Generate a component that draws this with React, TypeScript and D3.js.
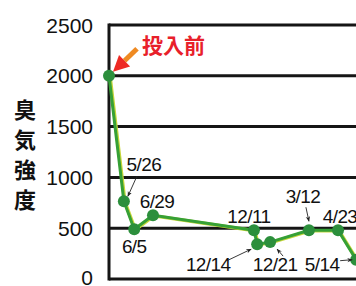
import React from 'react';
import * as d3 from 'd3';

// 投入前からの経過（日数、図から読み取った目安）
const dateLabels = ['投入前', '5/26', '6/5', '6/29', '12/11', '12/14', '12/21', '3/12', '4/23', '5/14'];
const elapsedDays = [0, 23, 39, 68, 224, 229, 249, 309, 354, 382];
const odorValues = [2000, 765, 490, 627, 480, 343, 363, 480, 480, 190];
const yTicks = [0, 500, 1000, 1500, 2000, 2500];
const yTitle = ['臭', '気', '強', '度'];

// label placement relative to each point (px)
const labelStyle = [
  null,
  { dx: 20, dy: -30, arrow: [13, -25, 4, -5] },
  { dx: 0, dy: 24 },
  { dx: 4, dy: -7 },
  { dx: -5, dy: -7 },
  { dx: -49, dy: 27, arrow: [-29, 16, -6, 5] },
  { dx: 5, dy: 29, arrow: [13, 14, 7, 7] },
  { dx: -6, dy: -27, arrow: [-3, -23, 0, -9] },
  { dx: 2, dy: -7 },
  { dx: -34, dy: 11, arrow: [-16, 1, -4, 0] },
];

const W = 356;
const H = 286;

export default function App() {
  const x = d3.scaleLinear().domain([0, 400]).range([109, 109 + 400 * 0.647]);
  const y = d3.scaleLinear().domain([0, 2500]).range([279, 25]);

  const pts = elapsedDays.map((d, i) => ({ d, v: odorValues[i], label: dateLabels[i] }));
  const line = d3.line<any>().x(p => x(p.d)).y(p => y(p.v));

  const x0 = x(0);
  const xEnd = W + 20;
  const p0x = x(pts[0].d);
  const p0y = y(pts[0].v);

  // big arrow to the first point
  const tip = [p0x + 4, p0y - 4];
  const tail = [p0x + 28, p0y - 27];
  const ux = (tip[0] - tail[0]);
  const uy = (tip[1] - tail[1]);
  const len = Math.hypot(ux, uy);
  const dx = ux / len, dy = uy / len;
  const base = [tip[0] - dx * 16, tip[1] - dy * 16];
  const head = [
    [tip[0], tip[1]],
    [base[0] + dy * 8, base[1] - dx * 8],
    [base[0] - dy * 8, base[1] + dx * 8],
  ];

  return (
    <svg width={W} height={H} style={{ position: 'fixed', left: 0, top: 0, background: '#fff' }}
      fontFamily="'Liberation Sans', Arial, sans-serif">
      <defs>
        <marker id="ah" viewBox="0 0 10 10" refX="9" refY="5" markerWidth="6" markerHeight="6" orient="auto">
          <path d="M0,1 L10,5 L0,9 L3,5 Z" fill="#222" />
        </marker>
      </defs>

      {yTicks.map(t => (
        <g key={t}>
          <line x1={x0} x2={xEnd} y1={y(t)} y2={y(t)} stroke="#151515" strokeWidth={3} />
          <text x={93} y={Math.min(y(t), 277)} dy="0.36em" textAnchor="end" fontSize={21} fill="#111">{t}</text>
        </g>
      ))}
      <line x1={x0} x2={x0} y1={y(2500) - 1.5} y2={y(0) + 1.5} stroke="#151515" strokeWidth={3} />

      {yTitle.map((c, i) => (
        <text key={c} x={25} y={110 + i * 30} dy="0.36em" textAnchor="middle" fontSize={22}
          fontWeight="bold" fontFamily="'Noto Sans CJK JP', sans-serif" fill="#111">{c}</text>
      ))}

      <path d={line(pts) || ''} fill="none" stroke="#c6d63a" strokeWidth={3.5} transform="translate(1,0.5)" />
      <path d={line(pts) || ''} fill="none" stroke="#36a036" strokeWidth={3} strokeLinejoin="round" />
      {pts.map((p, i) => (
        <circle key={i} cx={x(p.d)} cy={y(p.v)} r={6} fill="#2c8f3c" />
      ))}

      <line x1={tail[0]} y1={tail[1]} x2={base[0]} y2={base[1]} stroke="#ef8a22" strokeWidth={5} />
      <polygon points={head.map(q => q.join(',')).join(' ')} fill="#ee2a24" />
      <text x={142} y={p0y - 23} fontSize={21} fontWeight="bold" fill="#e8202a"
        fontFamily="'Noto Sans CJK JP', sans-serif">{pts[0].label}</text>

      {pts.map((p, i) => {
        const s = labelStyle[i];
        if (!s) return null;
        const px = x(p.d), py = y(p.v);
        return (
          <g key={'l' + i}>
            <text x={px + s.dx} y={py + s.dy} textAnchor="middle" fontSize={19} letterSpacing={-0.6} fill="#111">{p.label}</text>
            {s.arrow && (
              <line x1={px + s.arrow[0]} y1={py + s.arrow[1]} x2={px + s.arrow[2]} y2={py + s.arrow[3]}
                stroke="#222" strokeWidth={0.9} markerEnd="url(#ah)" />
            )}
          </g>
        );
      })}
    </svg>
  );
}
